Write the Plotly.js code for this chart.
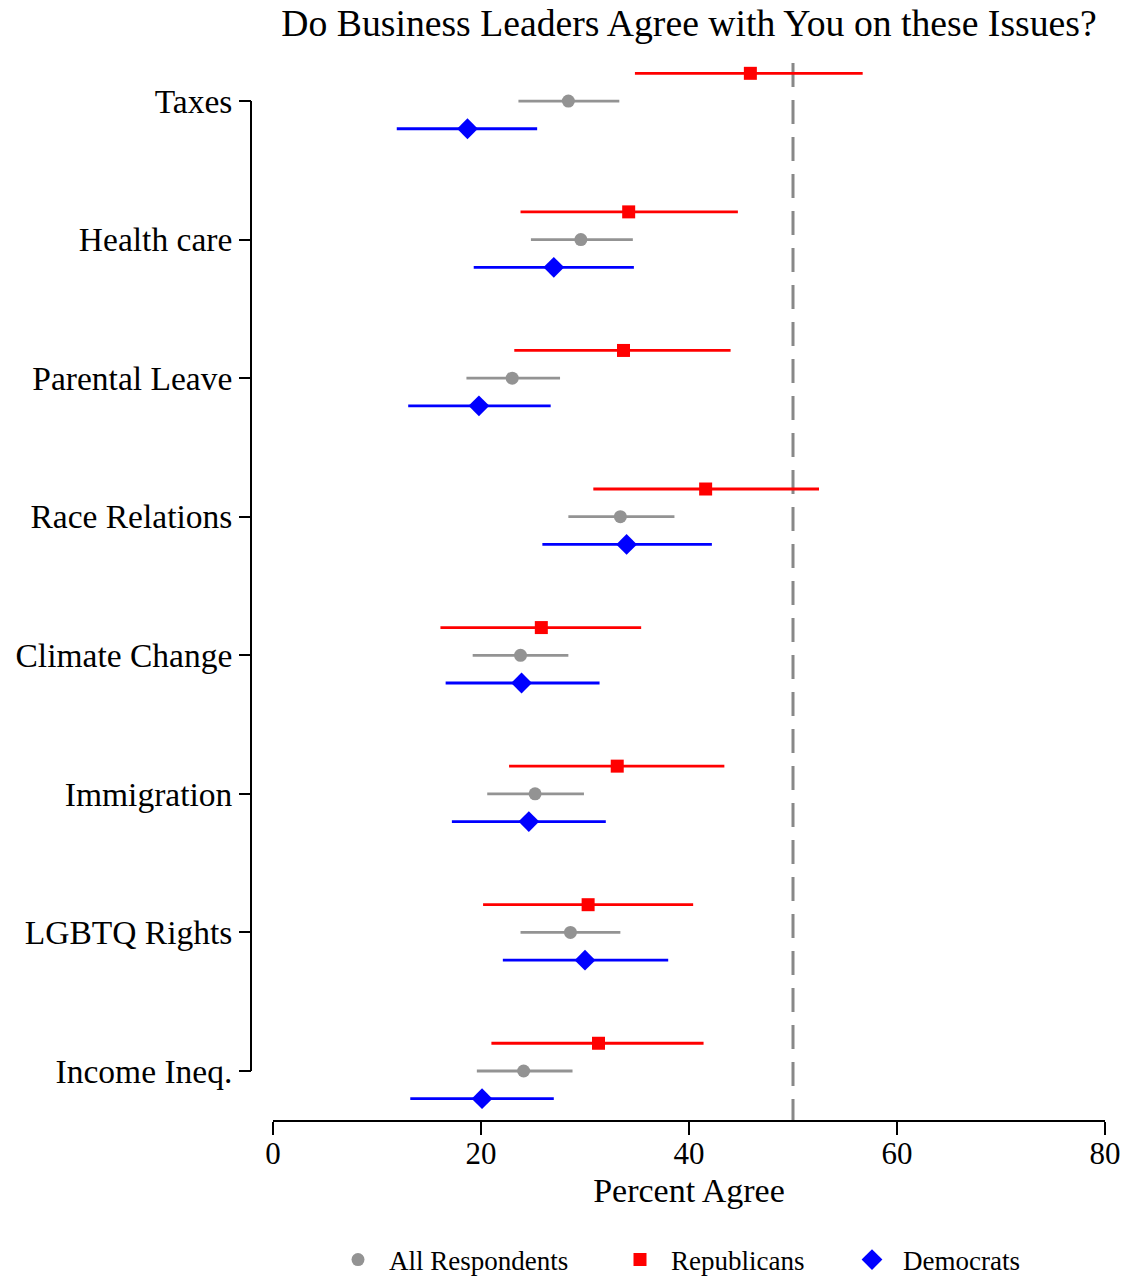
<!DOCTYPE html>
<html>
<head>
<meta charset="utf-8">
<script src="https://cdn.plot.ly/plotly-3.0.1.min.js"></script>
<style>html,body{margin:0;padding:0;background:#fff;}</style>
</head>
<body>
<div id="chart" style="width:1132px;height:1279px;"></div>
<script>
// Categories from top to bottom
const categories = ["Taxes","Health care","Parental Leave","Race Relations","Climate Change","Immigration","LGBTQ Rights","Income Ineq."];

// All respondents: estimate, lower CI, upper CI
const allEst = [28.4, 29.6, 23.0, 33.4, 23.8, 25.2, 28.6, 24.1];
const allLo  = [23.6, 24.8, 18.6, 28.4, 19.2, 20.6, 23.8, 19.6];
const allHi  = [33.3, 34.6, 27.6, 38.6, 28.4, 29.9, 33.4, 28.8];

// Republicans
const repEst = [45.9, 34.2, 33.7, 41.6, 25.8, 33.1, 30.3, 31.3];
const repLo  = [34.8, 23.8, 23.2, 30.8, 16.1, 22.7, 20.2, 21.0];
const repHi  = [56.7, 44.7, 44.0, 52.5, 35.4, 43.4, 40.4, 41.4];

// Democrats
const demEst = [18.7, 27.0, 19.8, 34.0, 23.9, 24.6, 30.0, 20.1];
const demLo  = [11.9, 19.3, 13.0, 25.9, 16.6, 17.2, 22.1, 13.2];
const demHi  = [25.4, 34.7, 26.7, 42.2, 31.4, 32.0, 38.0, 27.0];

const refLine = 50;
const n = categories.length;
const pos = categories.map((c, i) => n - i);
const off = 0.2;

function trace(name, legend, est, lo, hi, dy, color, symbol, size) {
  return {
    type: 'scatter', mode: 'markers', name: name, legend: legend,
    x: est, y: pos.map(p => p + dy),
    error_x: {type: 'data', symmetric: false,
      array: est.map((e, i) => hi[i] - e),
      arrayminus: est.map((e, i) => e - lo[i]),
      color: color, thickness: 2.8, width: 0},
    marker: {color: color, symbol: symbol, size: size},
    hoverinfo: 'x+name'
  };
}

const data = [
  trace('All Respondents', 'legend', allEst, allLo, allHi, 0, '#939393', 'circle', 13),
  trace('Republicans', 'legend2', repEst, repLo, repHi, off, '#ff0000', 'square', 13),
  trace('Democrats', 'legend3', demEst, demLo, demHi, -off, '#0000ff', 'diamond', 16)
];

const L = 240, R = 27, W = 1132, H = 1279, T = 35, B = 159;
const pw = W - L - R;
const font = {family: '"Liberation Serif", "Times New Roman", serif', color: '#000'};
const yBottom = 1 - 49 / 138.5;
const yTop = 8 + 66 / 138.5;
const yDashTop = 8 + 38 / 138.5;

function leg(markerX) {
  return {orientation: 'h', xref: 'container', x: (markerX - 31) / W, xanchor: 'left',
    yref: 'container', y: 1 - 1260 / H, yanchor: 'middle',
    font: Object.assign({size: 27}, font), itemwidth: 52, bgcolor: 'rgba(0,0,0,0)'};
}

const layout = {
  width: W, height: H,
  margin: {l: L, r: R, t: T, b: B, autoexpand: false},
  paper_bgcolor: '#fff', plot_bgcolor: '#fff',
  font: Object.assign({size: 30}, font),
  title: {text: 'Do Business Leaders Agree with You on these Issues?',
    font: Object.assign({size: 37.7}, font),
    xref: 'paper', x: (689 - L) / pw, xanchor: 'center',
    yref: 'container', y: 1 - 23 / H, yanchor: 'middle'},
  xaxis: {
    domain: [(273 - L) / pw, 1],
    range: [0, 80], tickvals: [0, 20, 40, 60, 80],
    showgrid: false, zeroline: false, automargin: false,
    showline: true, linecolor: '#000', linewidth: 2,
    ticks: 'outside', ticklen: 13, tickwidth: 2, tickcolor: '#000',
    ticklabelstandoff: -8,
    tickfont: Object.assign({size: 31}, font),
    title: {text: 'Percent Agree', font: Object.assign({size: 34}, font), standoff: 8}
  },
  yaxis: {
    range: [yBottom, yTop],
    anchor: 'free', position: (251 - L) / pw, automargin: false,
    tickvals: pos, ticktext: categories,
    showgrid: false, zeroline: false, showline: false,
    ticks: 'outside', ticklen: 12, tickwidth: 2, tickcolor: '#000',
    tickfont: Object.assign({size: 33.5}, font)
  },
  shapes: [
    {type: 'line', xref: 'paper', x0: (251 - L) / pw, x1: (251 - L) / pw,
     yref: 'y', y0: 1, y1: n, line: {color: '#000', width: 2}},
    {type: 'line', xref: 'x', x0: refLine, x1: refLine, yref: 'y', y0: yDashTop, y1: yBottom,
     line: {color: '#888888', width: 3, dash: '24px,13px'}, layer: 'below'}
  ],
  showlegend: true,
  legend: leg(358),
  legend2: leg(640),
  legend3: leg(872)
};

Plotly.newPlot('chart', data, layout, {displayModeBar: false});
</script>
</body>
</html>
